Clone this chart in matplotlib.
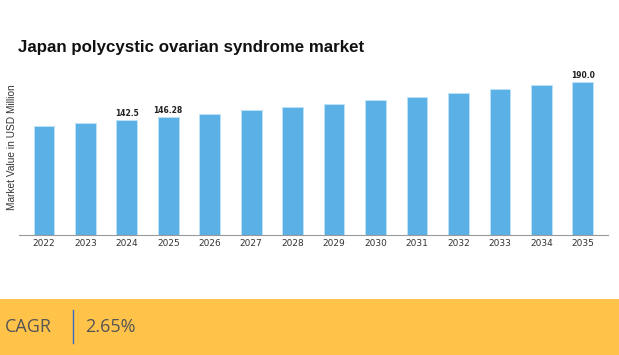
import matplotlib.pyplot as plt
from matplotlib.patches import Rectangle

# Data
years = ['2022', '2023', '2024', '2025', '2026', '2027', '2028',
         '2029', '2030', '2031', '2032', '2033', '2034', '2035']
values = [135.6, 139.0, 142.5, 146.28, 150.3, 154.7, 158.6,
          163.0, 167.3, 171.7, 176.3, 180.9, 185.8, 190.0]
labelled = {'2024': '142.5', '2025': '146.28', '2035': '190.0'}
cagr_text = '2.65%'

fig = plt.figure(figsize=(6.19, 3.55), dpi=100)

# chart area
ax = fig.add_axes([0.0307, 0.338, 0.951, 0.493])
x = list(range(len(years)))
ax.bar(x, values, width=0.5, color='#5BB0E6', edgecolor='#BFE3F7', linewidth=0.6, zorder=2)
ax.set_xlim(-0.6, 13.6)
ax.set_ylim(0, 217)
ax.set_xticks(x)
ax.set_xticklabels(years, fontsize=6.5, color='#333333')
ax.tick_params(axis='x', length=0, pad=3)
ax.set_yticks([])
for s in ['top', 'right', 'left']:
    ax.spines[s].set_visible(False)
ax.spines['bottom'].set_color('#999999')
ax.spines['bottom'].set_linewidth(0.8)

for i, yr in enumerate(years):
    if yr in labelled:
        ax.text(i, values[i] + 2.5, labelled[yr], ha='center', va='bottom',
                fontsize=5.5, fontweight='bold', color='#222222')

fig.text(0.02, 0.586, 'Market Value in USD Million', rotation=90, ha='center', va='center',
         fontsize=7.3, color='#333333', family='Liberation Sans')

fig.text(0.029, 0.865, 'Japan polycystic ovarian syndrome market', ha='left', va='center',
         fontsize=12.2, fontweight='bold', color='#111111', family='Liberation Sans')

# CAGR banner at the bottom
fig.patches.append(Rectangle((0.0, 0.0), 1.0, 0.158, transform=fig.transFigure,
                             facecolor='#FFC34A', edgecolor='none'))
fig.text(0.008, 0.079, 'CAGR', ha='left', va='center', fontsize=13,
         color='#555555', family='Open Sans')
fig.add_artist(plt.Line2D([0.1175, 0.1175], [0.034, 0.127], transform=fig.transFigure,
                          color='#2F6DC0', linewidth=1))
fig.text(0.137, 0.079, cagr_text, ha='left', va='center', fontsize=13,
         color='#555555', family='Open Sans')

fig.savefig('out.png', dpi=100)
